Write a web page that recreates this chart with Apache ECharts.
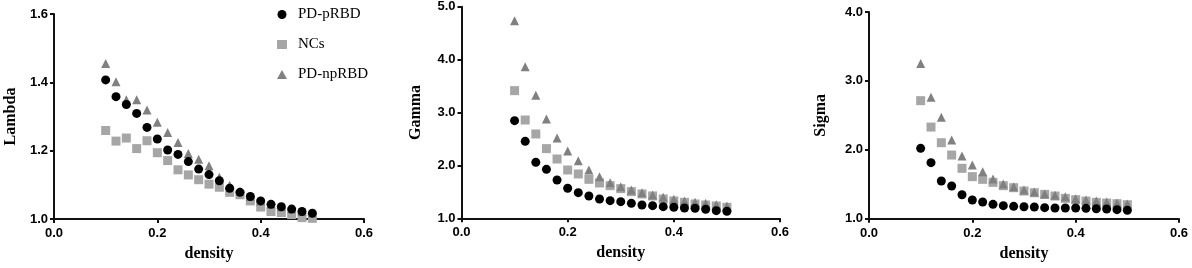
<!DOCTYPE html>
<html>
<head>
<meta charset="utf-8">
<script src="https://cdn.jsdelivr.net/npm/echarts@6/dist/echarts.min.js"></script>
<style>
  html, body { margin: 0; padding: 0; background: #fff; }
  #chart { width: 1192px; height: 268px; }
</style>
</head>
<body>
<div id="chart"></div>
<script>
// x values shared by all three panels
var density = [0.10, 0.12, 0.14, 0.16, 0.18, 0.20, 0.22, 0.24, 0.26, 0.28, 0.30,
  0.32, 0.34, 0.36, 0.38, 0.40, 0.42, 0.44, 0.46, 0.48, 0.50]

var groups = ['PD-pRBD', 'NCs', 'PD-npRBD']

// Lambda
var lambdaP = [1.407, 1.358, 1.335, 1.309, 1.268, 1.234, 1.202, 1.189, 1.168, 1.146, 1.130,
  1.112, 1.090, 1.078, 1.066, 1.053, 1.043, 1.036, 1.029, 1.022, 1.017]
var lambdaNC = [1.259, 1.228, 1.237, 1.206, 1.229, 1.194, 1.171, 1.144, 1.129, 1.115, 1.102,
  1.093, 1.078, 1.071, 1.053, 1.035, 1.022, 1.019, 1.013, 1.004, 1.002]
var lambdaNp = [1.455, 1.402, 1.349, 1.349, 1.319, 1.283, 1.253, 1.224, 1.192, 1.175, 1.156,
  1.122, 1.099, 1.081, 1.066, 1.053, 1.043, 1.036, 1.029, 1.022, 1.017]

// Gamma
var gammaP = [2.846, 2.455, 2.058, 1.926, 1.724, 1.567, 1.485, 1.422, 1.365, 1.334, 1.315,
  1.283, 1.252, 1.239, 1.220, 1.208, 1.195, 1.189, 1.170, 1.145, 1.132]
var gammaNC = [3.413, 2.858, 2.594, 2.317, 2.121, 1.913, 1.838, 1.737, 1.668, 1.617, 1.561,
  1.504, 1.460, 1.422, 1.365, 1.328, 1.302, 1.271, 1.252, 1.233, 1.208]
var gammaNp = [4.735, 3.866, 3.324, 2.877, 2.518, 2.272, 2.090, 1.913, 1.787, 1.674, 1.598,
  1.535, 1.485, 1.441, 1.397, 1.359, 1.328, 1.302, 1.283, 1.258, 1.233]

// Sigma
var sigmaP = [2.021, 1.813, 1.547, 1.474, 1.348, 1.271, 1.242, 1.208, 1.189, 1.179, 1.174,
  1.169, 1.160, 1.155, 1.155, 1.155, 1.150, 1.145, 1.140, 1.131, 1.121]
var sigmaNC = [2.713, 2.330, 2.103, 1.924, 1.731, 1.610, 1.571, 1.527, 1.479, 1.450, 1.402,
  1.377, 1.353, 1.329, 1.295, 1.276, 1.256, 1.237, 1.227, 1.218, 1.203]
var sigmaNp = [3.254, 2.761, 2.471, 2.142, 1.910, 1.779, 1.683, 1.576, 1.503, 1.464, 1.416,
  1.387, 1.358, 1.339, 1.319, 1.290, 1.271, 1.256, 1.242, 1.227, 1.213]

var xTicks = { min: 0, max: 0.6, interval: 0.2 }
var yTicks = [
  { name: 'Lambda', min: 1.0, max: 1.6, interval: 0.2 },
  { name: 'Gamma', min: 1, max: 5, interval: 1 },
  { name: 'Sigma', min: 1, max: 4, interval: 1 }
]

var symbols = ['circle', 'rect', 'triangle']
var colors = ['#000000', '#a6a6a6', '#808080']

function pairs(ys) {
  return density.map(function(x, i) { return [x, ys[i]] })
}

var panelData = [
  [lambdaP, lambdaNC, lambdaNp],
  [gammaP, gammaNC, gammaNp],
  [sigmaP, sigmaNC, sigmaNp]
]

var grids = [
  { left: 54, top: 14, width: 310, height: 205 },
  { left: 461.5, top: 6.7, width: 318.5, height: 211.6 },
  { left: 869, top: 12, width: 310, height: 206.7 }
]
var yNameGaps = [35, 38, 40]

var axisLine = { show: true, onZero: false, lineStyle: { color: '#111', width: 2 } }
var axisTick = { show: true, length: 4, lineStyle: { color: '#111', width: 2 } }
var tickLabel = {
  color: '#000', fontFamily: 'Arial, Liberation Sans', fontWeight: 'bold', fontSize: 13,
  formatter: function(v) { return Number(v).toFixed(1) }
}
var nameStyle = { color: '#000', fontFamily: 'Times New Roman, Liberation Serif', fontWeight: 'bold', fontSize: 16 }

var xAxis = []
var yAxis = []
var series = []
grids.forEach(function(g, k) {
  xAxis.push({
    type: 'value', gridIndex: k, min: xTicks.min, max: xTicks.max, interval: xTicks.interval,
    name: 'density', nameLocation: 'middle', nameGap: 27, nameTextStyle: nameStyle,
    axisLine: axisLine, axisTick: axisTick,
    axisLabel: Object.assign({ margin: 8 }, tickLabel),
    splitLine: { show: false }
  })
  yAxis.push({
    type: 'value', gridIndex: k, min: yTicks[k].min, max: yTicks[k].max, interval: yTicks[k].interval,
    name: yTicks[k].name, nameLocation: 'middle', nameGap: yNameGaps[k], nameTextStyle: nameStyle,
    axisLine: axisLine, axisTick: axisTick,
    axisLabel: Object.assign({ margin: 6 }, tickLabel),
    splitLine: { show: false }
  })
  groups.forEach(function(name, j) {
    series.push({
      type: 'scatter', name: name, xAxisIndex: k, yAxisIndex: k,
      symbol: symbols[j], symbolSize: 9,
      itemStyle: { color: colors[j], opacity: 1 },
      z: j === 0 ? 4 : (j === 1 ? 2 : 3),
      data: pairs(panelData[k][j])
    })
  })
})

var myChart = echarts.init(document.getElementById('chart'))
var option = {
  animation: false,
  backgroundColor: '#fff',
  grid: grids,
  xAxis: xAxis,
  yAxis: yAxis,
  legend: {
    data: groups,
    orient: 'vertical',
    left: 272,
    top: 2,
    itemWidth: 10,
    itemHeight: 9,
    itemGap: 15,
    textStyle: { color: '#000', fontFamily: 'Times New Roman, Liberation Serif', fontSize: 15, padding: [0, 0, 0, 6] }
  },
  series: series
}
myChart.setOption(option)
</script>
</body>
</html>
